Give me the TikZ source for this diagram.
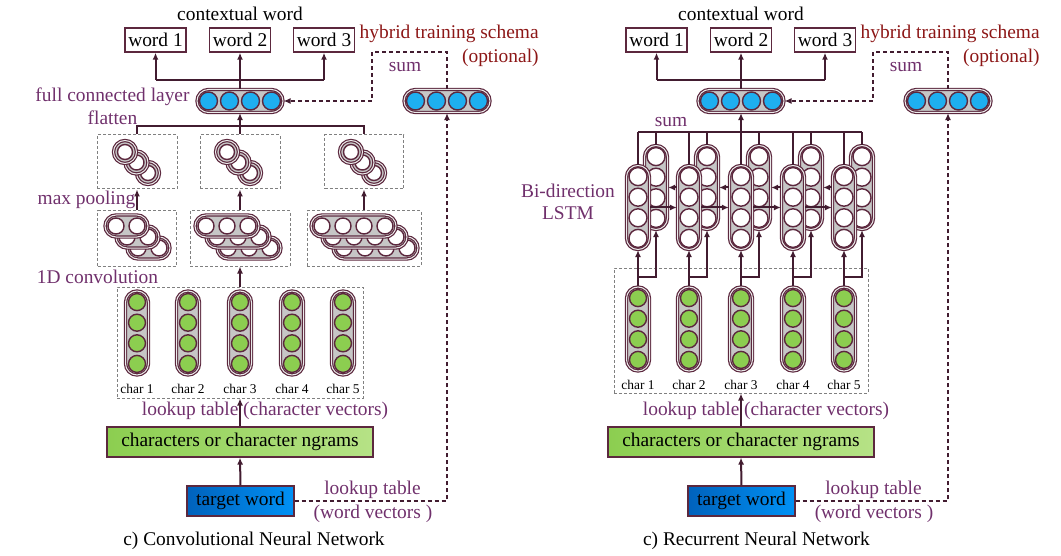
\documentclass[tikz,border=0pt]{standalone}
\usepackage{fontspec}
\setmainfont{Liberation Serif}
\usetikzlibrary{positioning, calc, arrows.meta}
\definecolor{nnDark}{RGB}{66, 28, 48}
\definecolor{nnEdge}{RGB}{92, 40, 62}
\definecolor{nnGray}{RGB}{198, 198, 198}
\definecolor{nnPurple}{RGB}{112, 48, 108}
\definecolor{nnRed}{RGB}{140, 22, 22}
\definecolor{nnBlue}{RGB}{30, 175, 240}
\definecolor{nnGreen}{RGB}{140, 206, 80}
\definecolor{nnGreenL}{RGB}{182, 226, 134}
\definecolor{nnNavy}{RGB}{0, 98, 188}
\definecolor{nnSky}{RGB}{0, 145, 245}
\definecolor{nnDots}{RGB}{128, 128, 128}
\tikzset{
    base/.style={
        font=\fontsize{9.7}{11}\selectfont,
        inner sep=1pt
    },
    tag/.style={base, text=nnPurple},
    note/.style={base, text=nnRed},
    charlab/.style={
        font=\fontsize{6.7}{8}\selectfont,
        inner sep=0pt
    },
    wordbox/.style={
        base,
        draw=nnEdge,
        line width=0.7pt,
        minimum width=30.5pt,
        minimum height=12pt,
        inner sep=0pt
    },
    inbox/.style={
        base,
        draw=nnEdge,
        line width=0.6pt,
        minimum height=15pt,
        inner sep=0pt
    },
    dotbox/.style={
        draw=nnDots,
        line width=0.5pt,
        dash pattern=on 1.5pt off 1pt,
        inner sep=0pt
    },
    pill/.style={
        draw=nnEdge,
        line width=0.6pt,
        double=nnGray!35,
        double distance=0.5pt,
        fill=nnGray,
        inner sep=0pt
    },
    hpill/.style={pill, minimum height=11.5pt, rounded corners=5.75pt},
    vpill/.style={pill, minimum width=11.5pt, minimum height=42pt, rounded corners=5.75pt},
    unit/.style={
        circle,
        draw=nnEdge,
        line width=0.7pt,
        inner sep=0pt,
        minimum size=8.5pt
    },
    ring/.style={pill, circle, minimum size=11.5pt},
    hole/.style={unit, fill=white, minimum size=7.5pt},
    wire/.style={line width=1pt, draw=nnDark},
    flow/.style={wire, -{Latex[length=3.5pt, width=3pt]}},
    hybrid/.style={wire, dash pattern=on 2pt off 1.5pt, -{Latex[length=3.5pt, width=3pt]}}
}

\begin{document}
\begin{tikzpicture}[x=0.5pt, y=-0.5pt]
  \useasboundingbox (0,0) rectangle (1061,556);

  % Parts shared by both networks
  \foreach \p/\dx/\cy/\by/\bw/\bh in {cnn/0/333/342.5/123/55.5, rnn/501/329/330.5/127/62.5}{
    % Output words
    \node[base] (ctx-\p) at ({\dx+240}, 14) {contextual word};
    \node[wordbox] (word1-\p) at ({\dx+155.5}, 40) {word 1};
    \node[wordbox] (word2-\p) at ({\dx+240}, 40) {word 2};
    \node[wordbox] (word3-\p) at ({\dx+324}, 40) {word 3};
    \node[note, anchor=east] (hyb-\p) at ({\dx+541}, 34) {hybrid training schema};
    \node[note, anchor=east] (opt-\p) at ({\dx+541}, 58) {(optional)};
    \node[tag] (sum-\p) at ({\dx+405}, 67) {sum};

    % Hidden vectors
    \node[hpill, minimum width=43pt] (fc-\p) at ({\dx+240}, 101) {};
    \node[hpill, minimum width=43pt] (vec-\p) at ({\dx+447}, 101) {};
    \foreach \s [count=\j] in {-31.5,-10.5,10.5,31.5}{
      \node[unit, fill=nnBlue, minimum size=9pt] (fc\j-\p) at ({\dx+240+\s}, 101) {};
      \node[unit, fill=nnBlue, minimum size=9pt] (vec\j-\p) at ({\dx+447+\s}, 101) {};
    }
    \coordinate (bus-\p) at ({\dx+240}, 80);
    \coordinate (turn-\p) at ({\dx+372}, 52);
    \draw[wire] (bus-\p -| word1-\p) -- (bus-\p -| word3-\p);
    \draw[flow] (bus-\p -| word1-\p) -- (word1-\p.south);
    \draw[flow] (bus-\p -| word3-\p) -- (word3-\p.south);
    \draw[flow] (fc-\p.north) -- (word2-\p.south);
    \draw[hybrid] (vec-\p.north) |- (turn-\p) |- (fc-\p.east);

    % Input side
    \node[inbox, minimum width=133pt, left color=nnGreen, right color=nnGreenL] (gram-\p) at ({\dx+240}, 442) {characters or character ngrams};
    \node[inbox, minimum width=53.5pt, left color=nnNavy, right color=nnSky] (target-\p) at ({\dx+240.5}, 501) {target word};
    \node[tag] (lkw-\p) at ({\dx+372.5}, 490) {lookup table};
    \node[tag] (wvec-\p) at ({\dx+373}, 514) {(word vectors )};
    \node[tag] (lkc-\p) at ({\dx+265}, 411) {lookup table (character vectors)};
    \draw[flow] (target-\p.north) -- (gram-\p.south);
    \draw[hybrid] (target-\p.east) -| (vec-\p.south);

    % Character vectors
    \node[dotbox, minimum width=\bw pt, minimum height=\bh pt] (chars-\p) at ({\dx+240}, \by) {};
    \foreach \x [count=\i] in {137,188,240,292,343}{
      \node[vpill] (ch\i-\p) at ({\dx+\x}, \cy) {};
      \foreach \s [count=\j] in {-30.9,-10.3,10.3,30.9}
        \node[unit, fill=nnGreen] (ch\i\j-\p) at ({\dx+\x}, {\cy+\s}) {};
      \node[charlab] (lab\i-\p) at ({\dx+\x}, {\cy+55.5}) {char \i};
    }
    \draw[flow] (gram-\p.north) -- (chars-\p.south);
  }

  % CNN: convolution and pooling
  \node[tag] (fcl) at (112.5, 97) {full connected layer};
  \node[tag] (flat) at (112.5, 118) {flatten};
  \node[tag] (maxp) at (86.5, 200) {max pooling};
  \node[tag] (conv) at (97.5, 277) {1D convolution};

  \node[dotbox, minimum width=40pt, minimum height=27pt] (pool1) at (137, 162) {};
  \node[dotbox, minimum width=40pt, minimum height=27pt] (pool2) at (240, 162) {};
  \node[dotbox, minimum width=39.5pt, minimum height=27pt] (pool3) at (364, 162) {};
  \foreach \x [count=\i] in {125,227,351}
    \foreach \k in {2,1,0}{
      \node[ring] (ring\i\k) at ({\x+11.5*\k}, {152+10.5*\k}) {};
      \node[hole] (hole\i\k) at (ring\i\k) {};
    }

  \node[dotbox, minimum width=39.5pt, minimum height=27.5pt] (conv1) at (137, 238.5) {};
  \node[dotbox, minimum width=50pt, minimum height=27.5pt] (conv2) at (240, 238.5) {};
  \node[dotbox, minimum width=57pt, minimum height=27.5pt] (conv3) at (364, 238.5) {};
  \foreach \x/\n [count=\i] in {116/2,206/3,322/4}
    \foreach \k in {2,1,0}{
      \pgfmathsetmacro\convw{10.5*(\n-1)+11}
      \pgfmathsetmacro\convx{\x+10.5*(\n-1)+11*\k}
      \node[hpill, minimum width=\convw pt, minimum height=11pt, rounded corners=5.5pt] (cp\i\k) at (\convx, {226+11*\k}) {};
      \foreach \m in {1,...,\n}
        \node[hole, minimum size=8pt] (cu\i\k\m) at ({\x+21*(\m-1)+11*\k}, {226+11*\k}) {};
    }

  \foreach \i in {1,2,3}
    \draw[flow] (conv\i.north) -- (pool\i.south);
  \draw[flow] (chars-cnn.north) -- (conv2.south);
  \coordinate (flatbus) at (240, 126);
  \draw[wire] (pool1.north) |- (flatbus) -| (pool3.north);
  \draw[flow] (pool2.north) -- (fc-cnn.south);

  % RNN: bi-directional LSTM
  \node[tag] (bidir) at (568, 191) {Bi-direction};
  \node[tag] (lstm) at (568, 213) {LSTM};
  \node[tag] (sumr) at (671, 122) {sum};
  \foreach \x [count=\i] in {638,689,741,793,844}{
    \node[vpill] (bw\i) at ({\x+18}, 187.5) {};
    \foreach \s [count=\j] in {-30.9,-10.3,10.3,30.9}
      \node[hole, minimum size=9pt] (bw\i\j) at ({\x+18}, {187.5+\s}) {};
    \node[vpill] (fw\i) at (\x, 207.5) {};
    \foreach \s [count=\j] in {-30.9,-10.3,10.3,30.9}
      \node[hole, minimum size=9pt] (fw\i\j) at (\x, {207.5+\s}) {};
    \coordinate (split\i) at (\x, 277);
  }
  \coordinate (sumbus) at (741, 132);
  \draw[wire] (fw1.north |- sumbus) -- (bw5.north |- sumbus);
  \foreach \i in {1,...,5}{
    \draw[flow] (ch\i-rnn.north) -- (fw\i.south);
    \draw[flow] (split\i) -| (bw\i.south);
    \draw[wire] (fw\i.north) -- (fw\i.north |- sumbus);
    \draw[wire] (bw\i.north) -- (bw\i.north |- sumbus);
  }
  \foreach \i/\j in {1/2,2/3,3/4,4/5}{
    \draw[flow] (fw\i.east) -- (fw\j.west);
    \draw[flow] (fw\j.west |- bw\i.east) -- (bw\i.east);
  }
  \draw[flow] (fw3.north |- sumbus) -- (fc-rnn.south);

  % Captions
  \node[base] (capc) at (254, 541) {c) Convolutional Neural Network};
  \node[base] (capr) at (756.5, 541) {c) Recurrent Neural Network};
\end{tikzpicture}
\end{document}
